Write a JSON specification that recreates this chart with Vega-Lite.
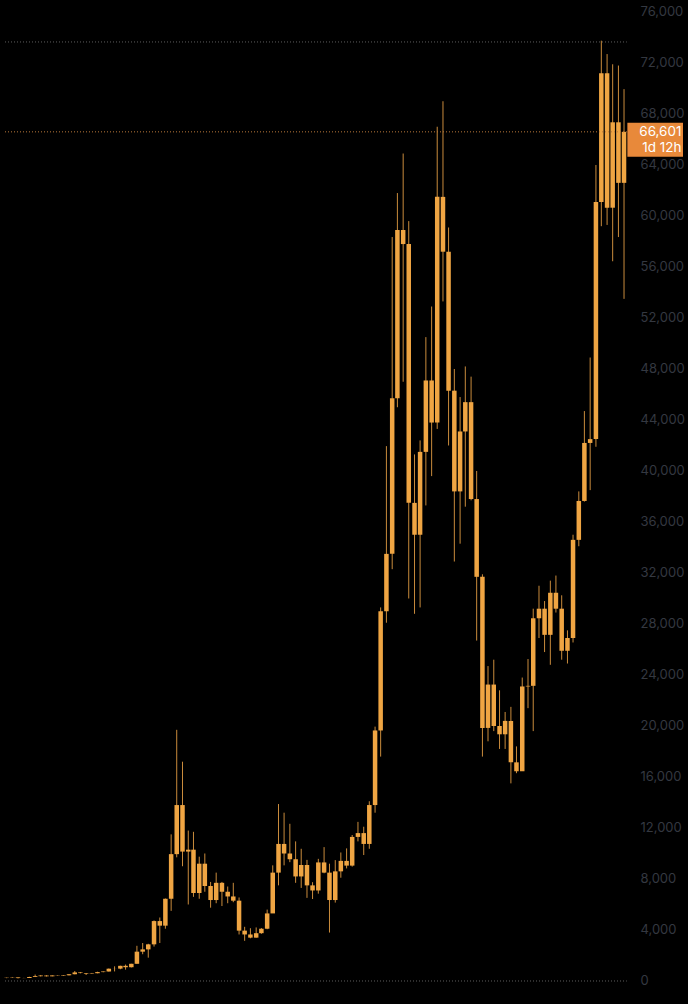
{
  "$schema": "https://vega.github.io/schema/vega-lite/v6.json",
  "width": 688,
  "height": 1004,
  "autosize": {"type": "none"},
  "padding": 0,
  "background": "#000000",
  "config": {"view": {"stroke": null}, "font": "Inter"},
  "resolve": {"axis": {"x": "independent", "y": "independent"}, "scale": {"x": "shared", "y": "shared"}},
  "datasets": {
    "candles": [
      {"d":"2015-06-01","o":230,"h":268,"l":220,"c":263},
      {"d":"2015-07-01","o":263,"h":316,"l":253,"c":284},
      {"d":"2015-08-01","o":284,"h":285,"l":199,"c":230},
      {"d":"2015-09-01","o":230,"h":247,"l":225,"c":236},
      {"d":"2015-10-01","o":236,"h":335,"l":236,"c":314},
      {"d":"2015-11-01","o":314,"h":503,"l":309,"c":378},
      {"d":"2015-12-01","o":378,"h":465,"l":350,"c":430},
      {"d":"2016-01-01","o":430,"h":456,"l":352,"c":368},
      {"d":"2016-02-01","o":368,"h":445,"l":366,"c":437},
      {"d":"2016-03-01","o":437,"h":441,"l":395,"c":416},
      {"d":"2016-04-01","o":416,"h":468,"l":413,"c":448},
      {"d":"2016-05-01","o":448,"h":550,"l":436,"c":531},
      {"d":"2016-06-01","o":531,"h":780,"l":524,"c":673},
      {"d":"2016-07-01","o":673,"h":705,"l":598,"c":624},
      {"d":"2016-08-01","o":624,"h":627,"l":470,"c":575},
      {"d":"2016-09-01","o":575,"h":630,"l":570,"c":609},
      {"d":"2016-10-01","o":609,"h":725,"l":605,"c":700},
      {"d":"2016-11-01","o":700,"h":755,"l":684,"c":745},
      {"d":"2016-12-01","o":745,"h":980,"l":740,"c":964},
      {"d":"2017-01-01","o":964,"h":1150,"l":750,"c":970},
      {"d":"2017-02-01","o":970,"h":1200,"l":920,"c":1190},
      {"d":"2017-03-01","o":1190,"h":1290,"l":890,"c":1080},
      {"d":"2017-04-01","o":1080,"h":1350,"l":1060,"c":1350},
      {"d":"2017-05-01","o":1350,"h":2760,"l":1350,"c":2300},
      {"d":"2017-06-01","o":2300,"h":2980,"l":2100,"c":2480},
      {"d":"2017-07-01","o":2480,"h":2920,"l":1830,"c":2875},
      {"d":"2017-08-01","o":2875,"h":4750,"l":2700,"c":4700},
      {"d":"2017-09-01","o":4700,"h":4980,"l":2980,"c":4340},
      {"d":"2017-10-01","o":4340,"h":6470,"l":4100,"c":6450},
      {"d":"2017-11-01","o":6450,"h":11500,"l":5500,"c":9950},
      {"d":"2017-12-01","o":9950,"h":19700,"l":9700,"c":13800},
      {"d":"2018-01-01","o":13800,"h":17200,"l":9000,"c":10150},
      {"d":"2018-02-01","o":10150,"h":11800,"l":6000,"c":10300},
      {"d":"2018-03-01","o":10300,"h":11700,"l":6600,"c":6900},
      {"d":"2018-04-01","o":6900,"h":9750,"l":6450,"c":9200},
      {"d":"2018-05-01","o":9200,"h":10000,"l":7000,"c":7450},
      {"d":"2018-06-01","o":7450,"h":7770,"l":5750,"c":6350},
      {"d":"2018-07-01","o":6350,"h":8500,"l":6100,"c":7700},
      {"d":"2018-08-01","o":7700,"h":7770,"l":5880,"c":7000},
      {"d":"2018-09-01","o":7000,"h":7410,"l":6100,"c":6630},
      {"d":"2018-10-01","o":6630,"h":7700,"l":6180,"c":6300},
      {"d":"2018-11-01","o":6300,"h":6550,"l":3650,"c":3950},
      {"d":"2018-12-01","o":3950,"h":4250,"l":3150,"c":3650},
      {"d":"2019-01-01","o":3650,"h":4140,"l":3350,"c":3400},
      {"d":"2019-02-01","o":3400,"h":4200,"l":3400,"c":3750},
      {"d":"2019-03-01","o":3750,"h":4150,"l":3700,"c":4100},
      {"d":"2019-04-01","o":4100,"h":5600,"l":4060,"c":5300},
      {"d":"2019-05-01","o":5300,"h":9070,"l":5330,"c":8500},
      {"d":"2019-06-01","o":8500,"h":13880,"l":7500,"c":10750},
      {"d":"2019-07-01","o":10750,"h":13200,"l":9070,"c":10000},
      {"d":"2019-08-01","o":10000,"h":12330,"l":9320,"c":9550},
      {"d":"2019-09-01","o":9550,"h":10950,"l":7700,"c":8200},
      {"d":"2019-10-01","o":8200,"h":10370,"l":7300,"c":9100},
      {"d":"2019-11-01","o":9100,"h":9500,"l":6520,"c":7500},
      {"d":"2019-12-01","o":7500,"h":7750,"l":6430,"c":7100},
      {"d":"2020-01-01","o":7100,"h":9580,"l":6850,"c":9300},
      {"d":"2020-02-01","o":9300,"h":10500,"l":8450,"c":8500},
      {"d":"2020-03-01","o":8500,"h":9200,"l":3800,"c":6350},
      {"d":"2020-04-01","o":6350,"h":9480,"l":6150,"c":8600},
      {"d":"2020-05-01","o":8600,"h":10080,"l":8100,"c":9420},
      {"d":"2020-06-01","o":9420,"h":10400,"l":8830,"c":9050},
      {"d":"2020-07-01","o":9050,"h":11450,"l":8970,"c":11300},
      {"d":"2020-08-01","o":11300,"h":12480,"l":10950,"c":11600},
      {"d":"2020-09-01","o":11600,"h":12100,"l":9880,"c":10750},
      {"d":"2020-10-01","o":10750,"h":14100,"l":10370,"c":13800},
      {"d":"2020-11-01","o":13800,"h":19950,"l":13200,"c":19650},
      {"d":"2020-12-01","o":19650,"h":29300,"l":17600,"c":29000},
      {"d":"2021-01-01","o":29000,"h":41950,"l":28100,"c":33500},
      {"d":"2021-02-01","o":33500,"h":58350,"l":32300,"c":45700},
      {"d":"2021-03-01","o":45700,"h":61800,"l":45000,"c":58900},
      {"d":"2021-04-01","o":58900,"h":64900,"l":47000,"c":57800},
      {"d":"2021-05-01","o":57800,"h":59600,"l":30000,"c":37500},
      {"d":"2021-06-01","o":37500,"h":41300,"l":28800,"c":35000},
      {"d":"2021-07-01","o":35000,"h":42400,"l":29300,"c":41500},
      {"d":"2021-08-01","o":41500,"h":50500,"l":37300,"c":47100},
      {"d":"2021-09-01","o":47100,"h":52900,"l":39600,"c":43800},
      {"d":"2021-10-01","o":43800,"h":67000,"l":43300,"c":61500},
      {"d":"2021-11-01","o":61500,"h":69000,"l":53300,"c":57200},
      {"d":"2021-12-01","o":57200,"h":59100,"l":42000,"c":46300},
      {"d":"2022-01-01","o":46300,"h":48000,"l":32900,"c":38400},
      {"d":"2022-02-01","o":38400,"h":45800,"l":34300,"c":43100},
      {"d":"2022-03-01","o":43100,"h":48200,"l":37200,"c":45400},
      {"d":"2022-04-01","o":45400,"h":47400,"l":37700,"c":37800},
      {"d":"2022-05-01","o":37800,"h":40000,"l":26700,"c":31700},
      {"d":"2022-06-01","o":31700,"h":31900,"l":17600,"c":19850},
      {"d":"2022-07-01","o":19850,"h":24700,"l":18800,"c":23250},
      {"d":"2022-08-01","o":23250,"h":25200,"l":19600,"c":20000},
      {"d":"2022-09-01","o":20000,"h":22800,"l":18200,"c":19350},
      {"d":"2022-10-01","o":19350,"h":21100,"l":18200,"c":20400},
      {"d":"2022-11-01","o":20400,"h":21500,"l":15500,"c":17150},
      {"d":"2022-12-01","o":17150,"h":18400,"l":16300,"c":16450},
      {"d":"2023-01-01","o":16450,"h":23800,"l":16500,"c":23100},
      {"d":"2023-02-01","o":23100,"h":25250,"l":21400,"c":23150},
      {"d":"2023-03-01","o":23150,"h":29200,"l":19600,"c":28450},
      {"d":"2023-04-01","o":28450,"h":31000,"l":26900,"c":29200},
      {"d":"2023-05-01","o":29200,"h":29800,"l":25800,"c":27150},
      {"d":"2023-06-01","o":27150,"h":31400,"l":24800,"c":30450},
      {"d":"2023-07-01","o":30450,"h":31800,"l":28900,"c":29200},
      {"d":"2023-08-01","o":29200,"h":30250,"l":25200,"c":25900},
      {"d":"2023-09-01","o":25900,"h":27500,"l":24900,"c":26900},
      {"d":"2023-10-01","o":26900,"h":35000,"l":26550,"c":34600},
      {"d":"2023-11-01","o":34600,"h":38400,"l":34100,"c":37650},
      {"d":"2023-12-01","o":37650,"h":44700,"l":37600,"c":42200},
      {"d":"2024-01-01","o":42200,"h":48900,"l":38500,"c":42500},
      {"d":"2024-02-01","o":42500,"h":64000,"l":41900,"c":61100},
      {"d":"2024-03-01","o":61100,"h":73750,"l":59200,"c":71200},
      {"d":"2024-04-01","o":71200,"h":72700,"l":59300,"c":60650},
      {"d":"2024-05-01","o":60650,"h":71900,"l":56450,"c":67350},
      {"d":"2024-06-01","o":67350,"h":71800,"l":58350,"c":62600},
      {"d":"2024-07-01","o":62600,"h":69950,"l":53500,"c":66601}
    ],
    "levels": [
      {"line": "high", "price": 73650},
      {"line": "zero", "price": 0}
    ],
    "last": [
      {"price": 66601, "label": "66,601", "remaining": "1d 12h"}
    ]
  },
  "layer": [
    {
      "data": {"name": "candles"},
      "mark": {"type": "rule", "color": "#c98b3c", "strokeWidth": 1},
      "encoding": {
        "x": {
          "field": "d",
          "type": "temporal",
          "scale": {"type": "utc", "domain": [1432339200000, 1747180800000]},
          "axis": null
        },
        "y": {
          "field": "l",
          "type": "quantitative",
          "scale": {"domain": [-1804, 76941], "nice": false, "zero": false},
          "axis": {
            "orient": "right",
            "offset": -48,
            "values": [0, 4000, 8000, 12000, 16000, 20000, 24000, 28000, 32000, 36000, 40000, 44000, 48000, 52000, 56000, 60000, 64000, 68000, 72000, 76000],
            "format": ",d",
            "labelAlign": "left",
            "labelBaseline": "middle",
            "labelPadding": 0,
            "labelColor": "#343840",
            "labelFontSize": 13,
            "labelFont": "Inter",
            "labelOverlap": false,
            "ticks": false,
            "domain": false,
            "grid": false,
            "title": null
          }
        },
        "y2": {"field": "h"}
      }
    },
    {
      "data": {"name": "candles"},
      "mark": {"type": "bar", "width": 4.5, "color": "#efa543"},
      "encoding": {
        "x": {"field": "d", "type": "temporal", "axis": null},
        "y": {"field": "o", "type": "quantitative", "axis": null},
        "y2": {"field": "c"}
      }
    },
    {
      "data": {"name": "levels"},
      "mark": {"type": "rule", "color": "#5e5e5e", "strokeWidth": 1, "strokeDash": [1, 2]},
      "encoding": {
        "x": {"datum": 1432339200000, "type": "temporal", "axis": null},
        "x2": {"datum": 1721088000000},
        "y": {"field": "price", "type": "quantitative", "axis": null}
      }
    },
    {
      "data": {"name": "last"},
      "mark": {"type": "rule", "color": "#b8783a", "strokeWidth": 1, "strokeDash": [1, 2]},
      "encoding": {
        "x": {"datum": 1432339200000, "type": "temporal", "axis": null},
        "x2": {"datum": 1721088000000},
        "y": {"field": "price", "type": "quantitative", "axis": null}
      }
    },
    {
      "data": {"name": "last"},
      "mark": {"type": "rect", "color": "#e8893a", "yOffset": -9, "y2Offset": 25},
      "encoding": {
        "x": {"datum": 1721347200000, "type": "temporal", "axis": null},
        "x2": {"datum": 1747180800000},
        "y": {"field": "price", "type": "quantitative", "axis": null},
        "y2": {"field": "price"}
      }
    },
    {
      "data": {"name": "last"},
      "mark": {"type": "text", "color": "#ffffff", "fontSize": 13.5, "font": "Inter", "align": "right", "baseline": "middle", "dx": -1.5},
      "encoding": {
        "x": {"datum": 1747180800000, "type": "temporal", "axis": null},
        "y": {"field": "price", "type": "quantitative", "axis": null},
        "text": {"field": "label"}
      }
    },
    {
      "data": {"name": "last"},
      "mark": {"type": "text", "color": "#ffffff", "fontSize": 13.5, "font": "Inter", "align": "right", "baseline": "middle", "dx": -1.5, "dy": 16.5},
      "encoding": {
        "x": {"datum": 1747180800000, "type": "temporal", "axis": null},
        "y": {"field": "price", "type": "quantitative", "axis": null},
        "text": {"field": "remaining"}
      }
    }
  ]
}
